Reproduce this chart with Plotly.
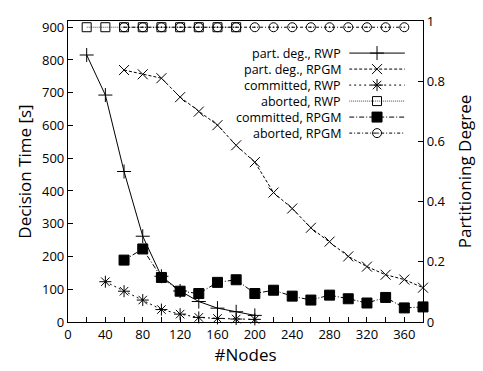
import plotly.graph_objects as go

# ---- data ----
nodes_rwp_pd = [20, 40, 60, 80, 100, 120, 140, 160, 180, 200]
pd_rwp = [0.887, 0.754, 0.50, 0.285, 0.152, 0.103, 0.068, 0.046, 0.034, 0.022]

nodes_rpgm = [60, 80, 100, 120, 140, 160, 180, 200, 220, 240, 260, 280, 300, 320, 340, 360, 380]
pd_rpgm = [0.837, 0.823, 0.81, 0.747, 0.699, 0.654, 0.587, 0.531, 0.430, 0.377, 0.313,
           0.267, 0.218, 0.184, 0.157, 0.141, 0.114]

nodes_rwp_c = [40, 60, 80, 100, 120, 140, 160, 180, 200]
committed_rwp = [123, 94, 67, 38, 24, 14, 11, 9, 8]

nodes_rwp_a = [20, 40, 60, 80, 100, 120, 140, 160, 180]
aborted_rwp = [900] * 9

nodes_rpgm_c = [60, 80, 100, 120, 140, 160, 180, 200, 220, 240, 260, 280, 300, 320, 340, 360, 380]
committed_rpgm = [189, 223, 136, 94, 87, 121, 129, 87, 97, 79, 67, 82, 71, 58, 75, 43, 46]

nodes_rpgm_a = [60, 80, 100, 120, 140, 160, 180, 200, 220, 240, 260, 280, 300, 320, 340, 360]
aborted_rpgm = [900] * 16

x_ticks = [0, 40, 80, 120, 160, 200, 240, 280, 320, 360]

FONT = "Open Sans"
BLACK = "black"

series = [
    dict(name="part. deg., RWP", x=nodes_rwp_pd, y=pd_rwp, axis="y2",
         dash="solid", symbol="cross-thin-open", size=10, color=BLACK),
    dict(name="part. deg., RPGM", x=nodes_rpgm, y=pd_rpgm, axis="y2",
         dash="3px,2px", symbol="x-thin-open", size=10, color=BLACK),
    dict(name="committed, RWP", x=nodes_rwp_c, y=committed_rwp, axis="y",
         dash="2px,3px", symbol="asterisk-open", size=10, color=BLACK),
    dict(name="aborted, RWP", x=nodes_rwp_a, y=aborted_rwp, axis="y",
         dash="1px,1px", symbol="square-open", size=9, color="#444"),
    dict(name="committed, RPGM", x=nodes_rpgm_c, y=committed_rpgm, axis="y",
         dash="5px,2px,1px,2px", symbol="square", size=10, color=BLACK),
    dict(name="aborted, RPGM", x=nodes_rpgm_a, y=aborted_rpgm, axis="y",
         dash="3px,2px,1px,2px", symbol="circle-open-dot", size=9, color=BLACK),
]

fig = go.Figure()
for s in series:
    fig.add_trace(go.Scatter(
        x=s["x"], y=s["y"], yaxis=s["axis"], mode="lines+markers",
        line=dict(color=s["color"], width=1, dash=s["dash"]),
        marker=dict(symbol=s["symbol"], size=s["size"], color=BLACK,
                    line=dict(color=BLACK, width=1)),
        showlegend=False, cliponaxis=False))

# ---- custom legend (text right-aligned, sample on the right) ----
for k, s in enumerate(series):
    fig.add_trace(go.Scatter(x=[0, 1], y=[k, k], xaxis="x3", yaxis="y3", mode="lines",
                             line=dict(color=s["color"], width=1, dash=s["dash"]),
                             showlegend=False, hoverinfo="skip"))
    fig.add_trace(go.Scatter(x=[0.5], y=[k], xaxis="x3", yaxis="y3", mode="markers",
                             marker=dict(symbol=s["symbol"], size=s["size"], color=BLACK,
                                         line=dict(color=BLACK, width=1)),
                             showlegend=False, hoverinfo="skip"))
    fig.add_annotation(text=s["name"], xref="paper", yref="y3", x=0.775, y=k,
                       xanchor="right", yanchor="middle", showarrow=False,
                       font=dict(family=FONT, size=12.5, color=BLACK))

axis_common = dict(showline=True, linecolor=BLACK, linewidth=1.2, ticks="inside",
                   ticklen=5, tickcolor=BLACK, showgrid=False, zeroline=False,
                   tickfont=dict(family=FONT, size=13, color=BLACK))

fig.update_layout(
    width=483, height=371,
    margin=dict(l=68, r=60, t=13, b=48),
    plot_bgcolor="white", paper_bgcolor="white",
    xaxis=dict(range=[0, 380], tickvals=x_ticks, mirror=True,
               minor=dict(dtick=20, ticks="inside", ticklen=5, tickcolor=BLACK),
               title=dict(text="#Nodes", font=dict(family=FONT, size=17, color=BLACK),
                          standoff=4),
               **axis_common),
    yaxis=dict(range=[0, 919], dtick=100, mirror=True,
               title=dict(text="Decision Time [s]", font=dict(family=FONT, size=17, color=BLACK),
                          standoff=6),
               **axis_common),
    yaxis2=dict(range=[0, 1], dtick=0.2, overlaying="y", side="right",
                title=dict(text="Partitioning Degree", font=dict(family=FONT, size=17, color=BLACK),
                           standoff=14),
                **axis_common),
    xaxis3=dict(domain=[0.792, 0.949], range=[0, 1], visible=False, fixedrange=True,
                anchor="y3"),
    yaxis3=dict(domain=[0.601, 0.920], range=[5.5, -0.5], visible=False, fixedrange=True,
                anchor="x3"),
)

fig.write_html("out.html")
